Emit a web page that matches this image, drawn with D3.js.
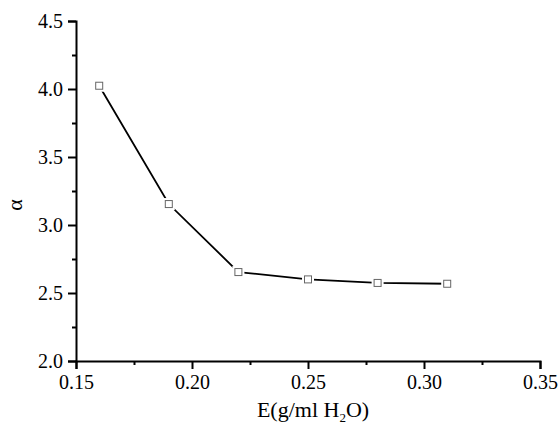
<!DOCTYPE html>
<html>
<head>
<meta charset="utf-8">
<script src="https://cdn.jsdelivr.net/npm/d3@7"></script>
<style>
  body { margin: 0; background: #fff; }
  svg text { font-family: "Liberation Serif", "Times New Roman", serif; fill: #000; }
</style>
</head>
<body>
<svg id="chart" width="559" height="426"></svg>
<script>
const xValues = [0.16, 0.19, 0.22, 0.25, 0.28, 0.31];
const alphaValues = [4.024, 3.154, 2.654, 2.600, 2.574, 2.568];
const xTicks = [0.15, 0.20, 0.25, 0.30, 0.35];
const yTicks = [2.0, 2.5, 3.0, 3.5, 4.0, 4.5];
const xMinor = [0.175, 0.225, 0.275, 0.325];
const yMinor = [2.25, 2.75, 3.25, 3.75, 4.25];

const svg = d3.select('#chart');
const x = d3.scaleLinear().domain([0.15, 0.35]).range([76, 540]);
const y = d3.scaleLinear().domain([2.0, 4.5]).range([361, 21]);

// minor ticks first, then the major axes on top
svg.append('g').attr('class', 'minor')
  .attr('transform', `translate(0,${y(2.0)})`)
  .call(d3.axisBottom(x).tickValues(xMinor).tickSize(4).tickFormat(''));
svg.append('g').attr('class', 'minor')
  .attr('transform', `translate(${x(0.15)},0)`)
  .call(d3.axisLeft(y).tickValues(yMinor).tickSize(4).tickFormat(''));
svg.selectAll('g.minor .domain').remove();

svg.append('g')
  .attr('transform', `translate(0,${y(2.0)})`)
  .call(d3.axisBottom(x).tickValues(xTicks).tickSize(8).tickPadding(6).tickFormat(d3.format('.2f')));
svg.append('g')
  .attr('transform', `translate(${x(0.15)},0)`)
  .call(d3.axisLeft(y).tickValues(yTicks).tickSize(8).tickPadding(5).tickFormat(d3.format('.1f')));

svg.selectAll('.domain').style('stroke', '#000').style('stroke-width', 2);
svg.selectAll('.tick line').style('stroke', '#000').style('stroke-width', 2);
svg.selectAll('g.tick text')
  .style('font-family', '"Liberation Serif", serif')
  .style('font-size', '20px')
  .style('fill', '#000');

// series
const pts = xValues.map((d, i) => ({ x: d, v: alphaValues[i] }));
const line = d3.line().x(d => x(d.x)).y(d => y(d.v));
svg.append('path')
  .datum(pts)
  .attr('d', line)
  .attr('fill', 'none')
  .attr('stroke', '#000')
  .attr('stroke-width', 1.8);

svg.selectAll('rect.halo').data(pts).join('rect')
  .attr('class', 'halo')
  .attr('x', d => x(d.x) - 6).attr('y', d => y(d.v) - 6)
  .attr('width', 12).attr('height', 12)
  .attr('fill', '#fff');
svg.selectAll('rect.marker').data(pts).join('rect')
  .attr('class', 'marker')
  .attr('x', d => x(d.x) - 3.5).attr('y', d => y(d.v) - 3.5)
  .attr('width', 7).attr('height', 7)
  .attr('fill', '#fff')
  .attr('stroke', '#666')
  .attr('stroke-width', 1);

// titles
const xt = svg.append('text')
  .attr('x', 313).attr('y', 417)
  .attr('text-anchor', 'middle')
  .style('font-size', '22px');
xt.append('tspan').text('E(g/ml H');
xt.append('tspan').style('font-size', '13px').attr('dy', 5).text('2');
xt.append('tspan').attr('dy', -5).text('O)');

svg.append('text')
  .attr('transform', 'translate(22,205) rotate(-90)')
  .attr('text-anchor', 'middle')
  .style('font-size', '22px')
  .text('α');
</script>
</body>
</html>
